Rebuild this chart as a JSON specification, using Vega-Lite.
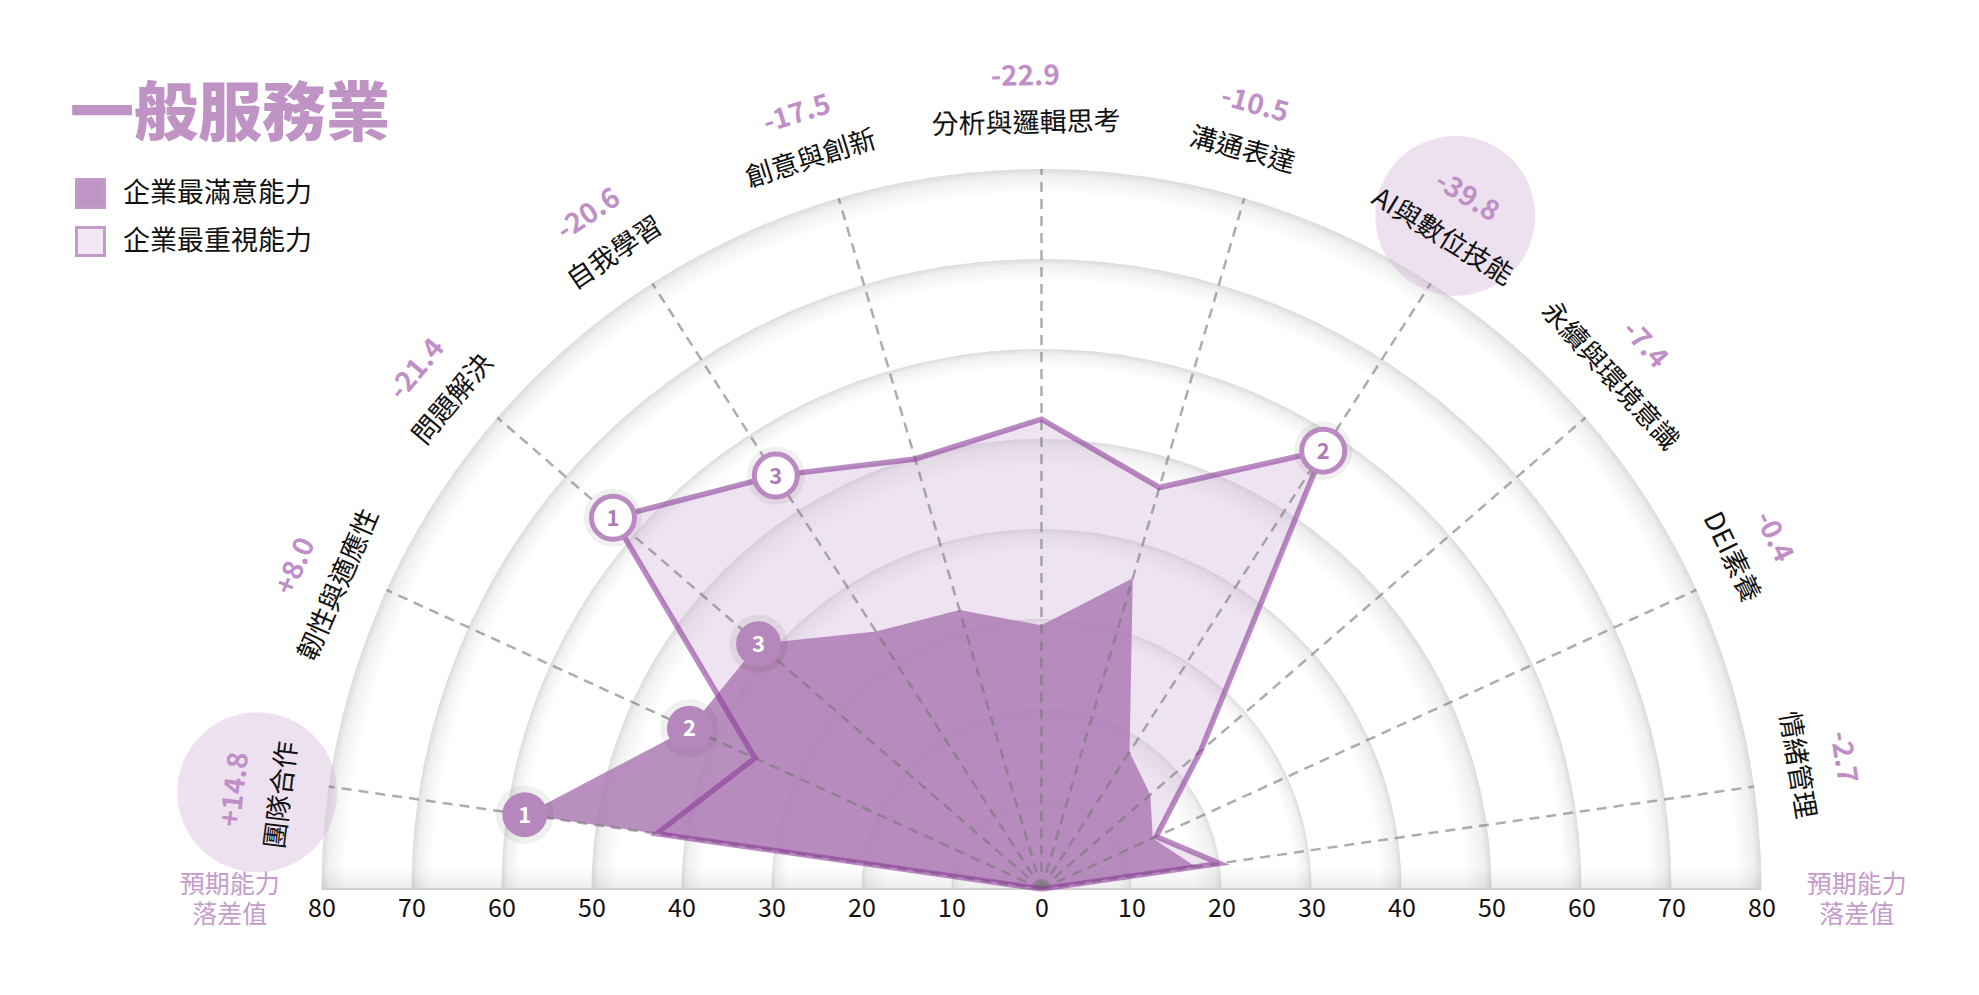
{
  "$schema": "https://vega.github.io/schema/vega-lite/v6.json",
  "width": 1979,
  "height": 889,
  "autosize": "none",
  "padding": {"left": 0, "top": 0, "right": 0, "bottom": 106},
  "background": "#ffffff",
  "title": {
    "text": "一般服務業",
    "anchor": "start",
    "frame": "group",
    "orient": "top",
    "offset": 0,
    "dx": 70,
    "dy": 180,
    "baseline": "middle",
    "font": "Noto Sans CJK TC",
    "fontSize": 64,
    "fontWeight": 900,
    "color": "#bf93c4"
  },
  "datasets": {
    "skills": [
      {"idx": -1, "skill": null, "imp": 0, "sat": 0, "gap": null, "sat_rank": null, "imp_rank": null, "hl": 0},
      {"idx": 0, "skill": "團隊合作", "imp": 43.2, "sat": 58.0, "gap": 14.8, "sat_rank": 1, "imp_rank": null, "hl": 1},
      {"idx": 1, "skill": "韌性與適應性", "imp": 35.0, "sat": 43.0, "gap": 8.0, "sat_rank": 2, "imp_rank": null, "hl": 0},
      {"idx": 2, "skill": "問題解決", "imp": 63.0, "sat": 41.6, "gap": -21.4, "sat_rank": 3, "imp_rank": 1, "hl": 0},
      {"idx": 3, "skill": "自我學習", "imp": 54.6, "sat": 34.0, "gap": -20.6, "sat_rank": null, "imp_rank": 3, "hl": 0},
      {"idx": 4, "skill": "創意與創新", "imp": 49.8, "sat": 32.3, "gap": -17.5, "sat_rank": null, "imp_rank": null, "hl": 0},
      {"idx": 5, "skill": "分析與邏輯思考", "imp": 52.2, "sat": 29.3, "gap": -22.9, "sat_rank": null, "imp_rank": null, "hl": 0},
      {"idx": 6, "skill": "溝通表達", "imp": 46.5, "sat": 36.0, "gap": -10.5, "sat_rank": null, "imp_rank": null, "hl": 0},
      {"idx": 7, "skill": "AI與數位技能", "imp": 57.9, "sat": 18.1, "gap": -39.8, "sat_rank": null, "imp_rank": 2, "hl": 1},
      {"idx": 8, "skill": "永續與環境意識", "imp": 23.4, "sat": 16.0, "gap": -7.4, "sat_rank": null, "imp_rank": null, "hl": 0},
      {"idx": 9, "skill": "DEI素養", "imp": 14.0, "sat": 13.6, "gap": -0.4, "sat_rank": null, "imp_rank": null, "hl": 0},
      {"idx": 10, "skill": "情緒管理", "imp": 20.0, "sat": 17.3, "gap": -2.7, "sat_rank": null, "imp_rank": null, "hl": 0},
      {"idx": 11, "skill": null, "imp": 0, "sat": 0, "gap": null, "sat_rank": null, "imp_rank": null, "hl": 0}
    ],
    "rings": [
      {"r": 10}, {"r": 20}, {"r": 30}, {"r": 40},
      {"r": 50}, {"r": 60}, {"r": 70}, {"r": 80}
    ],
    "one": [{}]
  },
  "data": {"name": "skills"},
  "transform": [
    {"calculate": "(datum.idx + 0.5) * PI / 11", "as": "th"},
    {"calculate": "-cos(datum.th)", "as": "ux"},
    {"calculate": "sin(datum.th)", "as": "uy"},
    {"calculate": "datum.imp * datum.ux", "as": "xi"},
    {"calculate": "datum.imp * datum.uy", "as": "yi"},
    {"calculate": "datum.sat * datum.ux", "as": "xs"},
    {"calculate": "datum.sat * datum.uy", "as": "ys"},
    {"calculate": "datum.th - 0.02", "as": "thl"},
    {"calculate": "datum.thl * 180 / PI - 90", "as": "ang"}
  ],
  "layer": [
    {
      "data": {"name": "rings"},
      "transform": [{"filter": "datum.r >= 60"}, {"calculate": "0", "as": "o"}],
      "mark": {
        "type": "point", "shape": "circle", "filled": true, "clip": true, "opacity": 1, "strokeWidth": 0,
        "fill": {"gradient": "radial", "x1": 0.5, "y1": 0.5, "r1": 0, "x2": 0.5, "y2": 0.5, "r2": 0.5,
          "stops": [
            {"offset": 0.0, "color": "rgba(0,0,0,0)"},
            {"offset": 0.965, "color": "rgba(0,0,0,0)"},
            {"offset": 0.99, "color": "rgba(0,0,0,0.06)"},
            {"offset": 1.0, "color": "rgba(0,0,0,0.14)"}
          ]}
      },
      "encoding": {
        "x": {"field": "o", "type": "quantitative", "scale": {"domain": [-115.72, 104.17], "nice": false, "zero": false}},
        "y": {"field": "o", "type": "quantitative", "scale": {"domain": [0, 98.78], "nice": false, "zero": false}, "axis": null},
        "size": {"field": "r", "type": "quantitative", "scale": {"type": "pow", "exponent": 2, "domain": [0, 80], "range": [0, 2073600]}, "legend": null}
      }
    },
    {
      "data": {"name": "rings"},
      "transform": [{"filter": "datum.r >= 30 && datum.r <= 50"}, {"calculate": "0", "as": "o"}],
      "mark": {
        "type": "point", "shape": "circle", "filled": true, "clip": true, "opacity": 1, "strokeWidth": 0,
        "fill": {"gradient": "radial", "x1": 0.5, "y1": 0.5, "r1": 0, "x2": 0.5, "y2": 0.5, "r2": 0.5,
          "stops": [
            {"offset": 0.0, "color": "rgba(0,0,0,0)"},
            {"offset": 0.94, "color": "rgba(0,0,0,0)"},
            {"offset": 0.985, "color": "rgba(0,0,0,0.06)"},
            {"offset": 1.0, "color": "rgba(0,0,0,0.14)"}
          ]}
      },
      "encoding": {
        "x": {"field": "o", "type": "quantitative", "scale": {"domain": [-115.72, 104.17], "nice": false, "zero": false}},
        "y": {"field": "o", "type": "quantitative", "scale": {"domain": [0, 98.78], "nice": false, "zero": false}, "axis": null},
        "size": {"field": "r", "type": "quantitative", "scale": {"type": "pow", "exponent": 2, "domain": [0, 80], "range": [0, 2073600]}, "legend": null}
      }
    },
    {
      "data": {"name": "rings"},
      "transform": [{"filter": "datum.r <= 20"}, {"calculate": "0", "as": "o"}],
      "mark": {
        "type": "point", "shape": "circle", "filled": true, "clip": true, "opacity": 1, "strokeWidth": 0,
        "fill": {"gradient": "radial", "x1": 0.5, "y1": 0.5, "r1": 0, "x2": 0.5, "y2": 0.5, "r2": 0.5,
          "stops": [
            {"offset": 0.0, "color": "rgba(0,0,0,0)"},
            {"offset": 0.85, "color": "rgba(0,0,0,0)"},
            {"offset": 0.97, "color": "rgba(0,0,0,0.06)"},
            {"offset": 1.0, "color": "rgba(0,0,0,0.13)"}
          ]}
      },
      "encoding": {
        "x": {"field": "o", "type": "quantitative", "scale": {"domain": [-115.72, 104.17], "nice": false, "zero": false}},
        "y": {"field": "o", "type": "quantitative", "scale": {"domain": [0, 98.78], "nice": false, "zero": false}, "axis": null},
        "size": {"field": "r", "type": "quantitative", "scale": {"type": "pow", "exponent": 2, "domain": [0, 80], "range": [0, 2073600]}, "legend": null}
      }
    },
    {
      "data": {"name": "one"},
      "mark": {
        "type": "rect",
        "color": {"gradient": "linear", "x1": 0, "y1": 1, "x2": 0, "y2": 0,
          "stops": [{"offset": 0, "color": "rgba(0,0,0,0.07)"}, {"offset": 1, "color": "rgba(0,0,0,0)"}]}
      },
      "encoding": {
        "x": {"datum": -80, "type": "quantitative", "scale": {"domain": [-115.72, 104.17], "nice": false, "zero": false}},
        "x2": {"datum": 80},
        "y": {"datum": 0, "type": "quantitative", "scale": {"domain": [0, 98.78], "nice": false, "zero": false}, "axis": null},
        "y2": {"datum": 2.4}
      }
    },
    {
      "data": {"name": "one"},
      "mark": {"type": "rule", "color": "#d0d0d0", "strokeWidth": 2},
      "encoding": {
        "x": {
          "datum": -80, "type": "quantitative",
          "scale": {"domain": [-115.72, 104.17], "nice": false, "zero": false},
          "axis": {
            "values": [-80, -70, -60, -50, -40, -30, -20, -10, 0, 10, 20, 30, 40, 50, 60, 70, 80],
            "labelExpr": "abs(datum.value)",
            "labelFont": "Noto Sans CJK TC",
            "labelFontSize": 25,
            "labelColor": "#111111",
            "labelPadding": 7,
            "labelOverlap": false,
            "labelFlush": false,
            "ticks": false,
            "domain": false,
            "grid": false,
            "title": null
          }
        },
        "x2": {"datum": 80},
        "y": {"datum": 0, "type": "quantitative", "scale": {"domain": [0, 98.78], "nice": false, "zero": false}, "axis": null}
      }
    },
    {
      "transform": [
        {"filter": "datum.hl == 1"},
        {"calculate": "87.8 * -cos(datum.thl)", "as": "xh"},
        {"calculate": "87.8 * sin(datum.thl)", "as": "yh"}
      ],
      "mark": {"type": "point", "shape": "circle", "filled": true, "size": 25600, "color": "#d6bcdb", "opacity": 0.45},
      "encoding": {
        "x": {"field": "xh", "type": "quantitative", "scale": {"domain": [-115.72, 104.17], "nice": false, "zero": false}},
        "y": {"field": "yh", "type": "quantitative", "scale": {"domain": [0, 98.78], "nice": false, "zero": false}, "axis": null}
      }
    },
    {
      "mark": {"type": "line", "fill": "#cfb0d5", "fillOpacity": 0.35, "stroke": "#cfb0d5", "strokeOpacity": 0, "strokeWidth": 0},
      "encoding": {
        "x": {"field": "xi", "type": "quantitative", "scale": {"domain": [-115.72, 104.17], "nice": false, "zero": false}},
        "y": {"field": "yi", "type": "quantitative", "scale": {"domain": [0, 98.78], "nice": false, "zero": false}, "axis": null},
        "order": {"field": "idx", "type": "quantitative"}
      }
    },
    {
      "mark": {"type": "line", "fill": "#ad7bb4", "fillOpacity": 0.85, "stroke": "#ad7bb4", "strokeOpacity": 0, "strokeWidth": 0},
      "encoding": {
        "x": {"field": "xs", "type": "quantitative", "scale": {"domain": [-115.72, 104.17], "nice": false, "zero": false}},
        "y": {"field": "ys", "type": "quantitative", "scale": {"domain": [0, 98.78], "nice": false, "zero": false}, "axis": null},
        "order": {"field": "idx", "type": "quantitative"}
      }
    },
    {
      "transform": [
        {"filter": "datum.idx >= 0 && datum.idx <= 10"},
        {"calculate": "0", "as": "o"},
        {"calculate": "80 * datum.ux", "as": "xe"},
        {"calculate": "80 * datum.uy", "as": "ye"}
      ],
      "mark": {"type": "rule", "color": "#777777", "opacity": 0.6, "strokeWidth": 2.5, "strokeDash": [10, 7]},
      "encoding": {
        "x": {"field": "o", "type": "quantitative", "scale": {"domain": [-115.72, 104.17], "nice": false, "zero": false}},
        "y": {"field": "o", "type": "quantitative", "scale": {"domain": [0, 98.78], "nice": false, "zero": false}, "axis": null},
        "x2": {"field": "xe"},
        "y2": {"field": "ye"}
      }
    },
    {
      "mark": {"type": "line", "stroke": "#8c3c99", "strokeOpacity": 0.6, "strokeWidth": 5.5, "strokeJoin": "miter"},
      "encoding": {
        "x": {"field": "xi", "type": "quantitative", "scale": {"domain": [-115.72, 104.17], "nice": false, "zero": false}},
        "y": {"field": "yi", "type": "quantitative", "scale": {"domain": [0, 98.78], "nice": false, "zero": false}, "axis": null},
        "order": {"field": "idx", "type": "quantitative"}
      }
    },
    {
      "transform": [{"filter": "datum.sat_rank != null"}],
      "mark": {"type": "point", "shape": "circle", "filled": true, "size": 3400, "color": "#000000", "opacity": 0.06},
      "encoding": {
        "x": {"field": "xs", "type": "quantitative", "scale": {"domain": [-115.72, 104.17], "nice": false, "zero": false}},
        "y": {"field": "ys", "type": "quantitative", "scale": {"domain": [0, 98.78], "nice": false, "zero": false}, "axis": null}
      }
    },
    {
      "transform": [{"filter": "datum.sat_rank != null"}],
      "mark": {"type": "point", "shape": "circle", "filled": true, "size": 2025, "color": "#b687bc", "opacity": 1},
      "encoding": {
        "x": {"field": "xs", "type": "quantitative", "scale": {"domain": [-115.72, 104.17], "nice": false, "zero": false}},
        "y": {"field": "ys", "type": "quantitative", "scale": {"domain": [0, 98.78], "nice": false, "zero": false}, "axis": null}
      }
    },
    {
      "transform": [{"filter": "datum.sat_rank != null"}],
      "mark": {"type": "text", "font": "Noto Sans CJK TC", "fontSize": 22, "fontWeight": "bold", "color": "#ffffff", "align": "center", "baseline": "middle", "dy": 1},
      "encoding": {
        "x": {"field": "xs", "type": "quantitative", "scale": {"domain": [-115.72, 104.17], "nice": false, "zero": false}},
        "y": {"field": "ys", "type": "quantitative", "scale": {"domain": [0, 98.78], "nice": false, "zero": false}, "axis": null},
        "text": {"field": "sat_rank", "type": "nominal"}
      }
    },
    {
      "transform": [{"filter": "datum.imp_rank != null"}],
      "mark": {"type": "point", "shape": "circle", "filled": true, "size": 3400, "color": "#000000", "opacity": 0.06},
      "encoding": {
        "x": {"field": "xi", "type": "quantitative", "scale": {"domain": [-115.72, 104.17], "nice": false, "zero": false}},
        "y": {"field": "yi", "type": "quantitative", "scale": {"domain": [0, 98.78], "nice": false, "zero": false}, "axis": null}
      }
    },
    {
      "transform": [{"filter": "datum.imp_rank != null"}],
      "mark": {"type": "point", "shape": "circle", "filled": false, "size": 1849, "fill": "#ffffff", "fillOpacity": 1, "stroke": "#bb8ac2", "strokeWidth": 5, "opacity": 1},
      "encoding": {
        "x": {"field": "xi", "type": "quantitative", "scale": {"domain": [-115.72, 104.17], "nice": false, "zero": false}},
        "y": {"field": "yi", "type": "quantitative", "scale": {"domain": [0, 98.78], "nice": false, "zero": false}, "axis": null}
      }
    },
    {
      "transform": [{"filter": "datum.imp_rank != null"}],
      "mark": {"type": "text", "font": "Noto Sans CJK TC", "fontSize": 22, "fontWeight": "bold", "color": "#ad7bb5", "align": "center", "baseline": "middle", "dy": 1},
      "encoding": {
        "x": {"field": "xi", "type": "quantitative", "scale": {"domain": [-115.72, 104.17], "nice": false, "zero": false}},
        "y": {"field": "yi", "type": "quantitative", "scale": {"domain": [0, 98.78], "nice": false, "zero": false}, "axis": null},
        "text": {"field": "imp_rank", "type": "nominal"}
      }
    },
    {
      "transform": [
        {"filter": "datum.idx >= 0 && datum.idx <= 10"},
        {"calculate": "85 * -cos(datum.thl)", "as": "xl"},
        {"calculate": "85 * sin(datum.thl)", "as": "yl"}
      ],
      "mark": {"type": "text", "font": "Noto Sans CJK TC", "fontSize": 27, "color": "#111111", "align": "center", "baseline": "middle"},
      "encoding": {
        "x": {"field": "xl", "type": "quantitative", "scale": {"domain": [-115.72, 104.17], "nice": false, "zero": false}},
        "y": {"field": "yl", "type": "quantitative", "scale": {"domain": [0, 98.78], "nice": false, "zero": false}, "axis": null},
        "text": {"field": "skill", "type": "nominal"},
        "angle": {"field": "ang", "type": "quantitative", "scale": null}
      }
    },
    {
      "transform": [
        {"filter": "datum.idx >= 0 && datum.idx <= 10"},
        {"calculate": "90.2 * -cos(datum.thl)", "as": "xg"},
        {"calculate": "90.2 * sin(datum.thl)", "as": "yg"},
        {"calculate": "(datum.gap > 0 ? '+' : (datum.gap < 0 ? '-' : '')) + format(abs(datum.gap), '.1f')", "as": "gapText"}
      ],
      "mark": {"type": "text", "font": "Noto Sans CJK TC", "fontSize": 28, "fontWeight": 600, "color": "#c08fc7", "align": "center", "baseline": "middle"},
      "encoding": {
        "x": {"field": "xg", "type": "quantitative", "scale": {"domain": [-115.72, 104.17], "nice": false, "zero": false}},
        "y": {"field": "yg", "type": "quantitative", "scale": {"domain": [0, 98.78], "nice": false, "zero": false}, "axis": null},
        "text": {"field": "gapText", "type": "nominal"},
        "angle": {"field": "ang", "type": "quantitative", "scale": null}
      }
    },
    {
      "data": {"name": "one"},
      "mark": {"type": "text", "text": "預期能力", "font": "Noto Sans CJK TC", "fontSize": 25, "color": "#c49ccb", "align": "center", "baseline": "middle"},
      "encoding": {
        "x": {"datum": -90.2, "type": "quantitative", "scale": {"domain": [-115.72, 104.17], "nice": false, "zero": false}},
        "y": {"datum": 0.5, "type": "quantitative", "scale": {"domain": [0, 98.78], "nice": false, "zero": false}, "axis": null}
      }
    },
    {
      "data": {"name": "one"},
      "mark": {"type": "text", "text": "落差值", "font": "Noto Sans CJK TC", "fontSize": 25, "color": "#c49ccb", "align": "center", "baseline": "middle"},
      "encoding": {
        "x": {"datum": -90.2, "type": "quantitative", "scale": {"domain": [-115.72, 104.17], "nice": false, "zero": false}},
        "y": {"datum": -2.9, "type": "quantitative", "scale": {"domain": [0, 98.78], "nice": false, "zero": false}, "axis": null}
      }
    },
    {
      "data": {"name": "one"},
      "mark": {"type": "text", "text": "預期能力", "font": "Noto Sans CJK TC", "fontSize": 25, "color": "#c49ccb", "align": "center", "baseline": "middle"},
      "encoding": {
        "x": {"datum": 90.6, "type": "quantitative", "scale": {"domain": [-115.72, 104.17], "nice": false, "zero": false}},
        "y": {"datum": 0.5, "type": "quantitative", "scale": {"domain": [0, 98.78], "nice": false, "zero": false}, "axis": null}
      }
    },
    {
      "data": {"name": "one"},
      "mark": {"type": "text", "text": "落差值", "font": "Noto Sans CJK TC", "fontSize": 25, "color": "#c49ccb", "align": "center", "baseline": "middle"},
      "encoding": {
        "x": {"datum": 90.6, "type": "quantitative", "scale": {"domain": [-115.72, 104.17], "nice": false, "zero": false}},
        "y": {"datum": -2.9, "type": "quantitative", "scale": {"domain": [0, 98.78], "nice": false, "zero": false}, "axis": null}
      }
    },
    {
      "data": {"name": "one"},
      "mark": {"type": "point", "shape": "square", "filled": true, "opacity": 0},
      "encoding": {
        "x": {"datum": 0, "type": "quantitative", "scale": {"domain": [-115.72, 104.17], "nice": false, "zero": false}},
        "y": {"datum": 0, "type": "quantitative", "scale": {"domain": [0, 98.78], "nice": false, "zero": false}, "axis": null},
        "color": {
          "datum": "企業最滿意能力",
          "type": "nominal",
          "scale": {"domain": ["企業最滿意能力", "企業最重視能力"], "range": ["#bf95c5", "#f1e8f3"]},
          "legend": {
            "orient": "none",
            "legendX": 75,
            "legendY": 178,
            "title": null,
            "padding": 0,
            "symbolType": "square",
            "symbolSize": 784,
            "symbolOpacity": 1,
            "symbolStrokeColor": "#c39bc9",
            "symbolStrokeWidth": 3,
            "labelFont": "Noto Sans CJK TC",
            "labelFontSize": 27,
            "labelColor": "#111111",
            "labelLimit": 0,
            "labelOffset": 17,
            "rowPadding": 7
          }
        }
      }
    },
    {
      "data": {"name": "one"},
      "mark": {"type": "point", "shape": "square", "filled": true, "opacity": 0},
      "encoding": {
        "x": {"datum": 0, "type": "quantitative", "scale": {"domain": [-115.72, 104.17], "nice": false, "zero": false}},
        "y": {"datum": 0, "type": "quantitative", "scale": {"domain": [0, 98.78], "nice": false, "zero": false}, "axis": null},
        "color": {"datum": "企業最重視能力", "type": "nominal"}
      }
    }
  ],
  "config": {
    "view": {"stroke": null},
    "axis": {"grid": false},
    "font": "Noto Sans CJK TC"
  }
}
